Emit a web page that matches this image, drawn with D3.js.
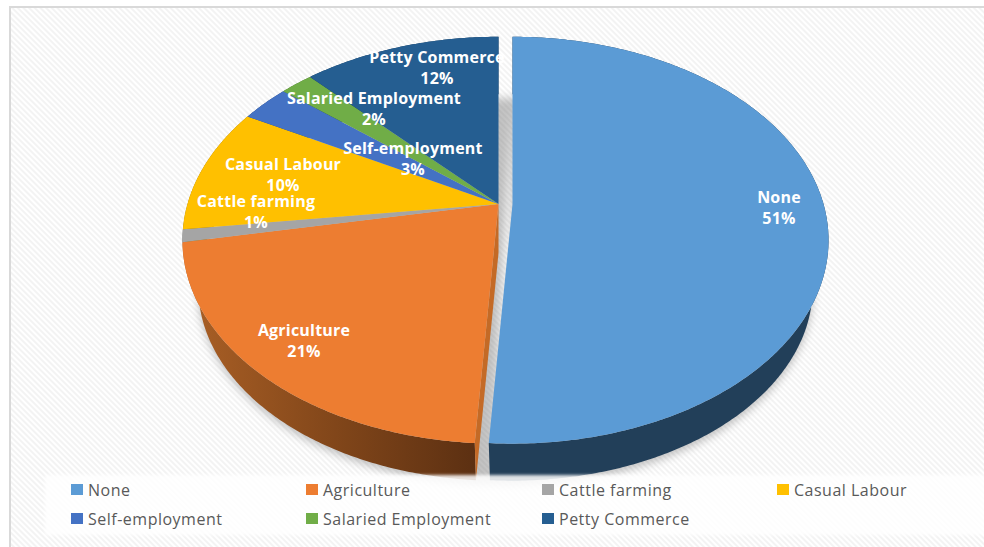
<!DOCTYPE html>
<html>
<head>
<meta charset="utf-8">
<script src="https://d3js.org/d3.v7.min.js"></script>
<style>
  html, body { margin: 0; padding: 0; background: #fff; }
  svg { display: block; }
  text { font-family: "Open Sans", sans-serif; }
</style>
</head>
<body>
<svg id="chart" width="984" height="547"></svg>
<script>
// Income source shares shown as an exploded 3D pie
const categories = ["None", "Agriculture", "Cattle farming", "Casual Labour",
                    "Self-employment", "Salaried Employment", "Petty Commerce"];
const shares = [51, 21, 1, 10, 3, 2, 12];
const sliceColors = ["#5b9bd5", "#ed7d31", "#a5a5a5", "#ffc000", "#4472c4", "#70ad47", "#255e91"];

// Label anchors, one per category, in page pixels (name line baseline centre)
const labelX = [779, 304, 256, 283, 413, 374, 437];
const labelY = [203, 336, 207, 170, 154, 104, 63];

const svg = d3.select("#chart");
const W = 984, H = 547;

// Perspective tilt of the disc
const tilt = 0.178, radiusX = 311, radiusY = 197, centerY = 204;
const wallScale = 0.95, wallDrop = 49;
const centerXMain = 498.5, centerXExploded = 512.5;

function project(theta, cx, level, rim = 1) {
  const u = rim * Math.sin(theta), v = -rim * Math.cos(theta);
  const w = 1 - tilt * v;
  const s = level ? wallScale : 1, d = level ? wallDrop : 0;
  return [cx + s * radiusX * u / w, centerY + d + s * radiusY * v / w];
}

const color = d3.scaleOrdinal().domain(categories).range(sliceColors);
const pie = d3.pie().sort(null).value(d => d.share);
const slices = pie(categories.map((name, i) => ({ name, share: shares[i] })));
const line = d3.line();

const rimAngles = (a0, a1) => {
  const n = Math.max(2, Math.ceil((a1 - a0) / 0.01));
  return d3.range(n + 1).map(i => a0 + (a1 - a0) * i / n);
};
const sliceCx = s => s.index === 0 ? centerXExploded : centerXMain;
const facePath = (s, level) => {
  const cx = sliceCx(s);
  const rim = rimAngles(s.startAngle, s.endAngle).map(t => project(t, cx, level));
  return line([project(0, cx, level, 0), ...rim]) + "Z";
};
const wallPath = s => {
  const cx = sliceCx(s);
  const ts = rimAngles(s.startAngle, s.endAngle);
  return line([...ts.map(t => project(t, cx, 0)),
               ...ts.slice().reverse().map(t => project(t, cx, 1))]) + "Z";
};

const defs = svg.append("defs");
const hatch = defs.append("pattern").attr("id", "hatch")
  .attr("patternUnits", "userSpaceOnUse").attr("width", 4).attr("height", 4)
  .attr("patternTransform", "rotate(45)");
hatch.append("rect").attr("width", 4).attr("height", 4).attr("fill", "#ffffff");
hatch.append("rect").attr("width", 4).attr("height", 2).attr("fill", "#f3f3f3");

defs.append("filter").attr("id", "soft").attr("x", "-10%").attr("y", "-10%")
  .attr("width", "120%").attr("height", "120%")
  .append("feGaussianBlur").attr("stdDeviation", 4.5);
defs.append("filter").attr("id", "panelEdge").attr("x", "-5%").attr("y", "-10%")
  .attr("width", "110%").attr("height", "120%")
  .append("feGaussianBlur").attr("stdDeviation", 1.5);

const wallGrad = defs.append("linearGradient").attr("id", "wallOrange")
  .attr("gradientUnits", "userSpaceOnUse")
  .attr("x1", 190).attr("x2", 476).attr("y1", 0).attr("y2", 0);
wallGrad.append("stop").attr("offset", 0).attr("stop-color", "#a95f25");
wallGrad.append("stop").attr("offset", 0.55).attr("stop-color", "#7e4419");
wallGrad.append("stop").attr("offset", 1).attr("stop-color", "#5c3012");

// Chart area with its hatched fill and thin border
svg.append("rect").attr("x", 10).attr("y", 7).attr("width", W).attr("height", H)
  .attr("fill", "url(#hatch)").attr("stroke", "#d9d9d9").attr("stroke-width", 2);

// Soft drop shadow under the pie, including the gap between the two pieces
const shadow = svg.append("g").attr("filter", "url(#soft)")
  .attr("fill", "#6f6f6f").attr("opacity", 0.42)
  .attr("transform", "translate(0,4)");
const mainGroup = slices.slice(1);
const mainStart = mainGroup[0].startAngle;
const mainRim = rimAngles(mainStart, 2 * Math.PI).map(t => project(t, centerXMain, 1));
const explodedRim = rimAngles(0, slices[0].endAngle).map(t => project(t, centerXExploded, 1));
shadow.append("path").attr("d", line([project(0, centerXMain, 1, 0), ...mainRim]) + "Z");
shadow.append("path").attr("d", line([project(0, centerXExploded, 1, 0), ...explodedRim]) + "Z");
shadow.append("path").attr("d", line([
  project(0, centerXMain, 1), project(0, centerXExploded, 1),
  project(slices[0].endAngle, centerXExploded, 1), project(mainStart, centerXMain, 1)
]) + "Z");

// Side walls
const wallColors = ["#223f59", "url(#wallOrange)", "#636363", "#997300", "#2a4478", "#44682b", "#163857"];
svg.append("g").selectAll("path").data(slices).join("path")
  .attr("d", wallPath)
  .attr("fill", d => wallColors[d.index]);

// Cut face of the orange wedge, seen through the gap
const agri = slices[1];
svg.append("path")
  .attr("d", line([
    project(0, centerXMain, 0, 0), project(agri.startAngle, centerXMain, 0),
    project(agri.startAngle, centerXMain, 1), project(0, centerXMain, 1, 0)
  ]) + "Z")
  .attr("fill", "#c46a26");

// Top faces
svg.append("g").selectAll("path").data(slices).join("path")
  .attr("d", d => facePath(d, 0))
  .attr("fill", d => color(d.data.name));

// Data labels
const labels = svg.append("g").attr("fill", "#ffffff").attr("font-weight", 700)
  .attr("font-size", 16).attr("letter-spacing", 0.2).attr("text-anchor", "middle");
slices.forEach((s, i) => {
  labels.append("text").attr("x", labelX[i]).attr("y", labelY[i]).text(s.data.name);
  labels.append("text").attr("x", labelX[i]).attr("y", labelY[i] + 21).text(s.data.share + "%");
});

// Legend on a near-white panel
svg.append("rect").attr("x", 45).attr("y", 475).attr("width", W).attr("height", 60)
  .attr("fill", "#ffffff").attr("fill-opacity", 0.86).attr("filter", "url(#panelEdge)");

const legendCols = [71, 306, 542, 777];
const legendRows = [490, 519];
const legend = svg.append("g").selectAll("g").data(categories).join("g")
  .attr("transform", (d, i) => `translate(${legendCols[i % 4]},${legendRows[Math.floor(i / 4)]})`);
legend.append("rect").attr("x", 0).attr("y", -6).attr("width", 12).attr("height", 11)
  .attr("fill", d => color(d));
legend.append("text").attr("x", 17).attr("y", 5.5)
  .attr("font-size", 16).attr("letter-spacing", 0.5).attr("fill", "#595959").text(d => d);
</script>
</body>
</html>
